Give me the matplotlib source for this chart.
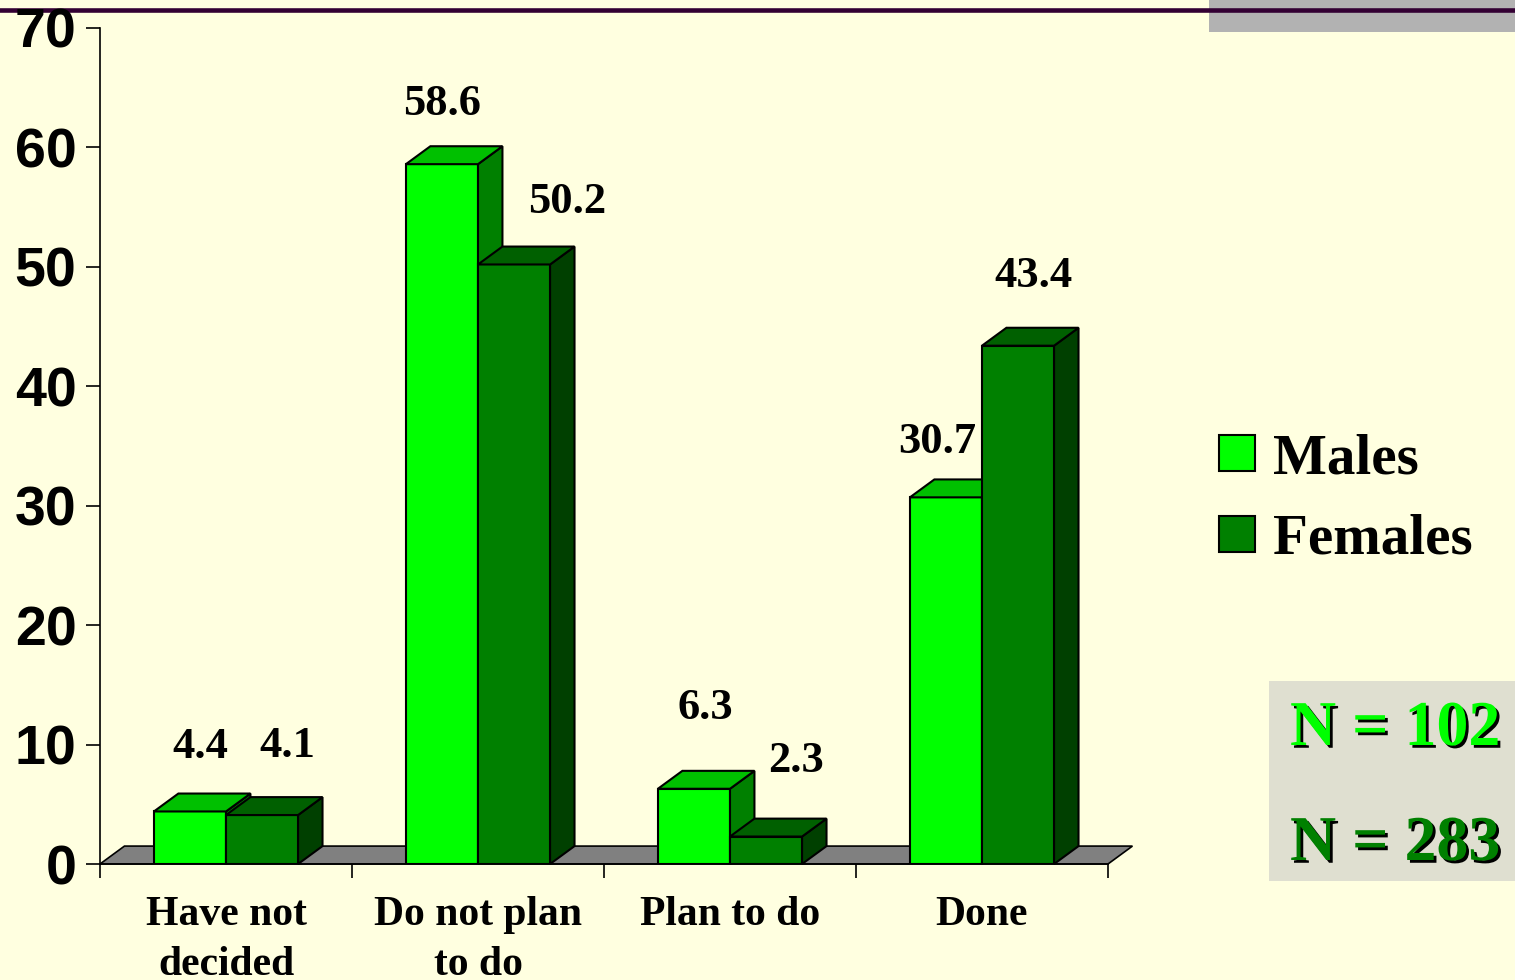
import numpy as np
import matplotlib
matplotlib.use("Agg")
import matplotlib.pyplot as plt
from matplotlib.patches import Polygon, Rectangle
from matplotlib.lines import Line2D
import matplotlib.patheffects as pe

# data
categories = ["Have not\ndecided", "Do not plan\nto do", "Plan to do", "Done"]
males = [4.4, 58.6, 6.3, 30.7]
females = [4.1, 50.2, 2.3, 43.4]
series_names = ["Males", "Females"]
n_labels = ["N = 102", "N = 283"]

# value label nudges (x in category units, y in value units)
males_dx = [0.04, 0.0, 0.045, -0.035]
males_dy = [4.5, 4.1, 5.8, 3.7]
females_dx = [0.10, 0.21, 0.12, 0.06]
females_dy = [4.9, 4.3, 5.4, 4.9]

bg = "#FFFFE0"
# front, top, side colours
male_cols = ("#00FF00", "#00C000", "#008000")
female_cols = ("#008000", "#006000", "#004000")

serif = "Liberation Serif"
sans = "Liberation Sans"

fig = plt.figure(figsize=(15.15, 9.8), dpi=100, facecolor=bg)
ax = fig.add_axes([100 / 1515, 116 / 980, 1008 / 1515, 836 / 980])
ax.set_facecolor("none")
ax.set_xlim(-0.5, 3.5)
ax.set_ylim(0, 70)

w = 0.286      # bar width
ddx = 0.097    # depth in x
ddy = 1.5      # depth in y

# floor
floor = Polygon([(-0.5, 0), (3.5, 0), (3.5 + ddx, ddy), (-0.5 + ddx, ddy)],
                closed=True, facecolor="#808080", edgecolor="black", lw=1.2,
                zorder=2, clip_on=False)
ax.add_patch(floor)


def box(x0, h, cols, z):
    ax.bar(x0, h, width=w, align="edge", color=cols[0], edgecolor="black",
           linewidth=1.5, zorder=z)
    top = Polygon([(x0, h), (x0 + w, h), (x0 + w + ddx, h + ddy), (x0 + ddx, h + ddy)],
                  closed=True, facecolor=cols[1], edgecolor="black", lw=1.5,
                  zorder=z, clip_on=False)
    side = Polygon([(x0 + w, 0), (x0 + w + ddx, ddy), (x0 + w + ddx, h + ddy), (x0 + w, h)],
                   closed=True, facecolor=cols[2], edgecolor="black", lw=1.5,
                   zorder=z, clip_on=False)
    ax.add_patch(side)
    ax.add_patch(top)


x = np.arange(len(categories))
for i in range(len(categories)):
    box(x[i] - w, males[i], male_cols, 3 + 2 * i)
    box(x[i], females[i], female_cols, 4 + 2 * i)
    ax.text(x[i] - w / 2 + males_dx[i], males[i] + males_dy[i], f"{males[i]:.1f}",
            ha="center", va="baseline", fontsize=32, fontweight="bold",
            family=serif, zorder=20)
    ax.text(x[i] + w / 2 + females_dx[i], females[i] + females_dy[i], f"{females[i]:.1f}",
            ha="center", va="baseline", fontsize=32, fontweight="bold",
            family=serif, zorder=20)

# axes styling
for s in ["top", "right"]:
    ax.spines[s].set_visible(False)
for s in ["left", "bottom"]:
    ax.spines[s].set_linewidth(1.2)
ax.spines["bottom"].set_zorder(2.5)

ax.set_yticks(np.arange(0, 71, 10))
ax.tick_params(axis="y", length=10, width=1.2, pad=7, labelsize=40)
for t in ax.get_yticklabels():
    t.set_fontweight("bold")
    t.set_family(sans)

ax.set_xticks(np.arange(-0.5, 3.6, 1))
ax.set_xticklabels([])
ax.tick_params(axis="x", which="major", length=10, width=1.2)
ax.set_xticks(x, categories, minor=True)
ax.tick_params(axis="x", which="minor", length=0, pad=23, labelsize=30)
for t in ax.get_xticklabels(minor=True):
    t.set_fontweight("bold")
    t.set_family(serif)
    t.set_linespacing(1.4)

# top decoration
fig.patches.append(Rectangle((1209 / 1515, 1 - 32 / 980), 1 - 1209 / 1515, 32 / 980,
                             transform=fig.transFigure, facecolor="#B2B2B2",
                             edgecolor="none", zorder=-2))
fig.lines.append(Line2D([0, 1], [1 - 10.5 / 980] * 2, transform=fig.transFigure,
                        color="#330033", lw=3.3, zorder=-1))

# legend
for j, (name, col) in enumerate(zip(series_names, [male_cols[0], female_cols[0]])):
    ytop = 435 + j * 81
    fig.patches.append(Rectangle((1219 / 1515, 1 - (ytop + 36) / 980), 36 / 1515, 36 / 980,
                                 transform=fig.transFigure, facecolor=col,
                                 edgecolor="black", lw=1.5))
    fig.text(1273 / 1515, 1 - (473 + j * 80) / 980, name, fontsize=41,
             fontweight="bold", family=serif, va="baseline", ha="left")

# N box
fig.patches.append(Rectangle((1269 / 1515, 1 - 881 / 980), 246 / 1515, 200 / 980,
                             transform=fig.transFigure, facecolor="#DFDFD0",
                             edgecolor="none"))
shadow = [pe.SimplePatchShadow(offset=(2, -2), shadow_rgbFace="black", alpha=1.0), pe.Normal()]
for j, (lab, col) in enumerate(zip(n_labels, [male_cols[0], female_cols[0]])):
    fig.text(1290 / 1515, 1 - (745 + j * 115) / 980, lab, fontsize=46,
             fontweight="bold", family=serif, color=col, va="baseline",
             ha="left", path_effects=shadow)

fig.savefig("out.png", dpi=100, facecolor=bg)
